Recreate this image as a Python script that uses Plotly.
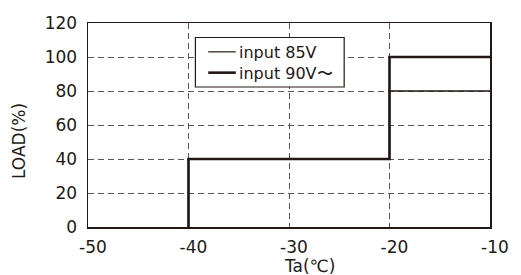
import plotly.graph_objects as go

x_85 = [-40, -40, -20, -20, -10]
y_85 = [0, 40, 40, 80, 80]
x_90 = [-40, -40, -20, -20, -10]
y_90 = [0, 40, 40, 100, 100]
x_ticks = [-50, -40, -30, -20, -10]
x_labels = ["-50", "-40", "-30", "-20", "-10"]
y_ticks = [0, 20, 40, 60, 80, 100, 120]
names = ["input 85V", "input 90V〜"]

ink = "#231815"
grid = "#555555"
font = "DejaVu Sans, sans-serif"

W, H = 521, 275
ML, MR, MT, MB = 88, 25, 23, 48
PW, PH = W - ML - MR, H - MT - MB


def px(x):
    return (x - ML) / PW


def py(y):
    return 1 - (y - MT) / PH


fig = go.Figure()
fig.add_trace(go.Scatter(x=x_85, y=y_85, mode="lines", name=names[0],
                         line=dict(color=ink, width=1.4), showlegend=False,
                         hoverinfo="skip"))
fig.add_trace(go.Scatter(x=x_90, y=y_90, mode="lines", name=names[1],
                         line=dict(color=ink, width=2.6), showlegend=False,
                         hoverinfo="skip"))

# legend drawn manually
box_top, box_bot = 37.5, 87
mid = (box_top + box_bot) / 2
fs_leg = 16
pitch = 1.3 * fs_leg
row1, row2 = mid - pitch / 2, mid + pitch / 2
shapes = [
    dict(type="rect", xref="paper", yref="paper",
         x0=px(197), x1=px(348), y0=py(box_bot), y1=py(box_top),
         line=dict(color=ink, width=1.2), fillcolor="white", layer="above"),
    dict(type="line", xref="paper", yref="paper",
         x0=px(210), x1=px(238), y0=py(row1), y1=py(row1),
         line=dict(color=ink, width=1.2), layer="above"),
    dict(type="line", xref="paper", yref="paper",
         x0=px(210), x1=px(238), y0=py(row2), y1=py(row2),
         line=dict(color=ink, width=2.6), layer="above"),
]
annotations = [
    dict(text=names[0] + "<br>" + names[1], xref="paper", yref="paper",
         x=px(240.5), y=py(mid + 1), align="left",
         xanchor="left", yanchor="middle", showarrow=False, borderpad=0,
         font=dict(size=fs_leg, color=ink, family=font)),
    dict(text="Ta(℃)", xref="paper", yref="paper", x=px(312.5), y=py(266),
         xanchor="center", yanchor="middle", showarrow=False,
         font=dict(size=17, color=ink, family=font)),
    dict(text="LOAD(%)", xref="paper", yref="paper", x=px(18), y=py(141),
         xanchor="center", yanchor="middle", showarrow=False, textangle=-90,
         font=dict(size=17, color=ink, family=font)),
]

fig.update_layout(
    width=W, height=H,
    margin=dict(l=ML, r=MR, t=MT, b=MB, pad=0),
    paper_bgcolor="white", plot_bgcolor="white",
    font=dict(family=font, color=ink, size=17),
    showlegend=False,
    hovermode=False,
    shapes=shapes,
    annotations=annotations,
    xaxis=dict(range=[-50, -10], tickvals=x_ticks, ticktext=x_labels,
               showgrid=True, gridcolor=grid, griddash="6px,4px", gridwidth=1,
               showline=True, linecolor=ink, linewidth=1.5, mirror=True,
               zeroline=False, ticks="", ticklabelstandoff=4,
               ticklabelshift=5),
    yaxis=dict(range=[0, 120], tickvals=y_ticks,
               showgrid=True, gridcolor=grid, griddash="6px,4px", gridwidth=1,
               showline=True, linecolor=ink, linewidth=1.5, mirror=True,
               zeroline=False, ticks="", ticklabelstandoff=6),
)
fig.write_html("out.html", config={"displayModeBar": False, "staticPlot": True},
               post_script="document.body.style.margin='0';"
                           "document.body.style.overflow='hidden';")
